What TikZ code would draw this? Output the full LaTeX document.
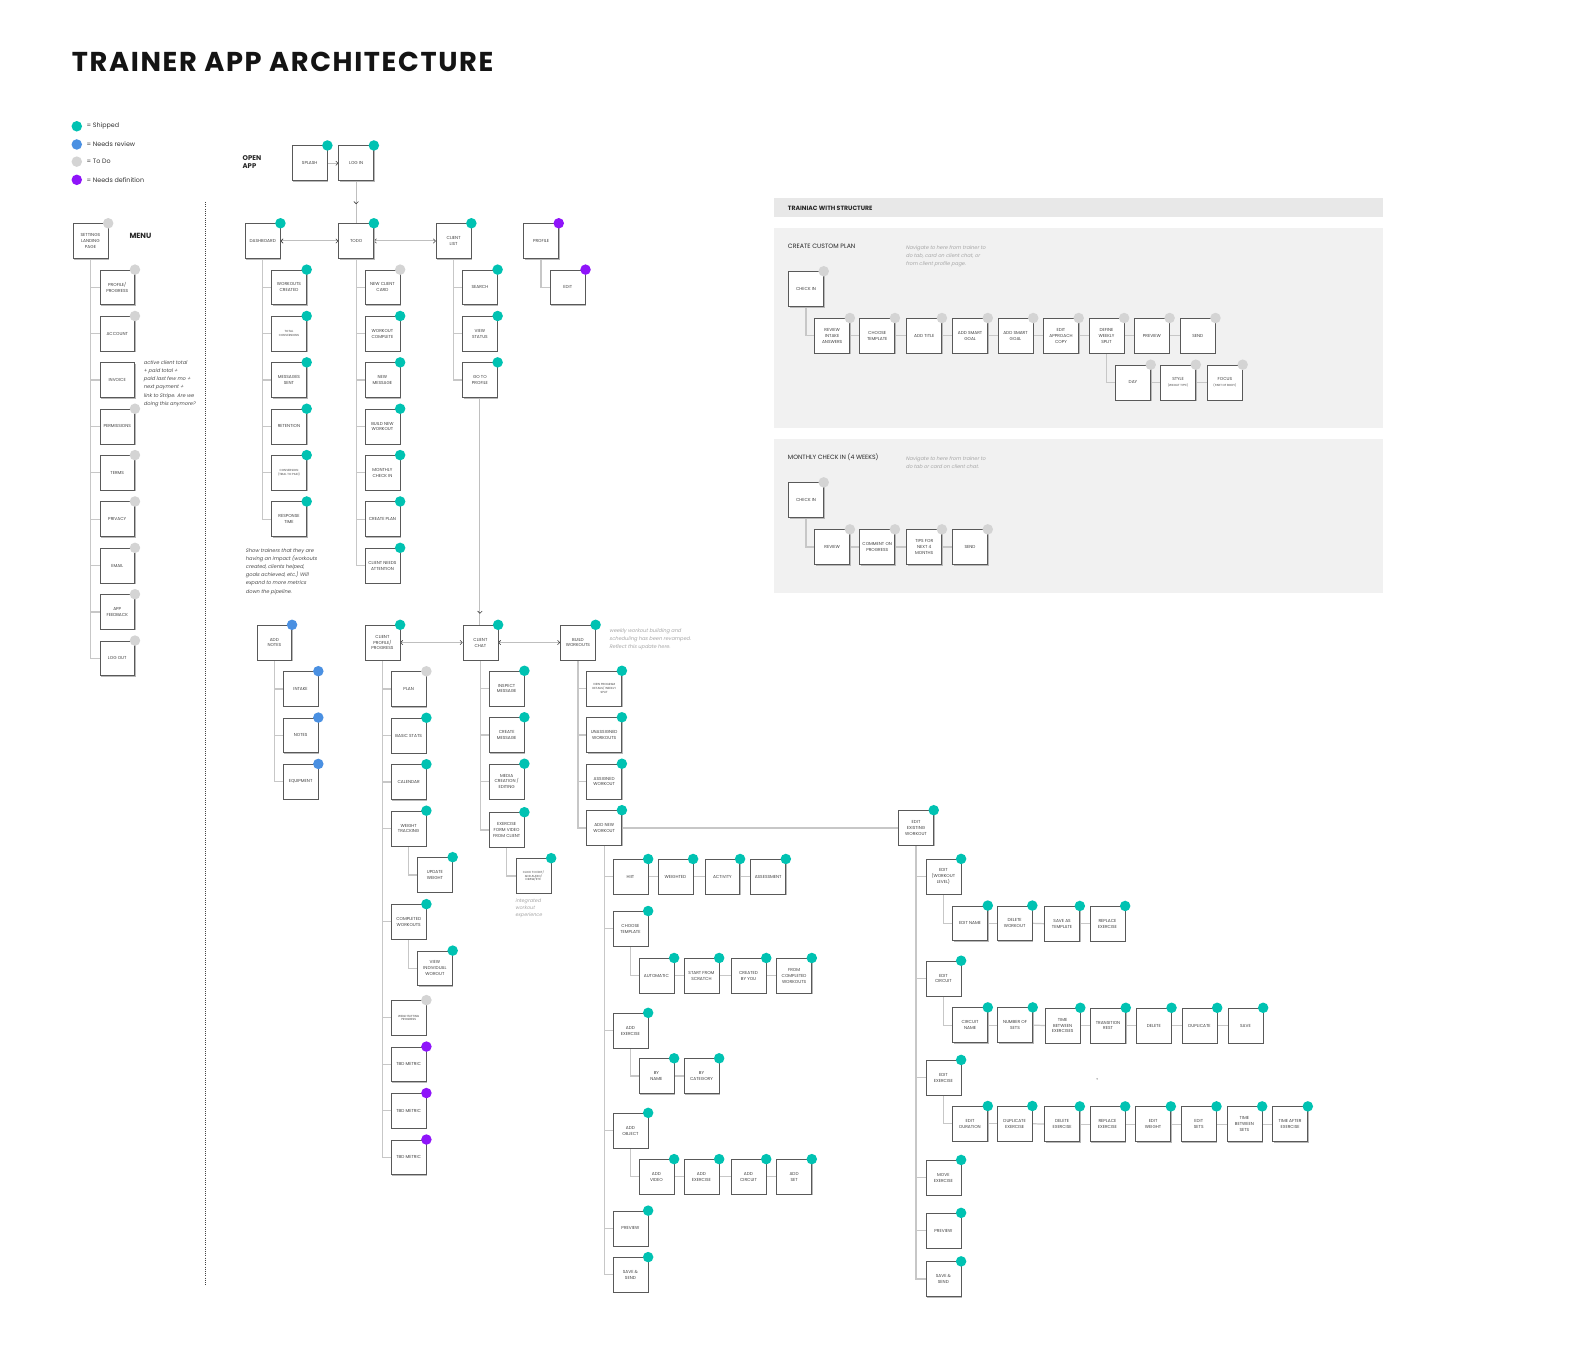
\documentclass[tikz,border=0pt]{standalone}
\usepackage{fontspec}
\setmainfont{Poppins}
\newfontfamily\notefont{Poppins}[FakeSlant=0.2]
\newfontfamily\titlefont{Poppins}[LetterSpace=6]
\usetikzlibrary{arrows.meta,shadows,decorations.markings}
\definecolor{cship}{HTML}{00C2B2}
\definecolor{creview}{HTML}{4A90E2}
\definecolor{ctodo}{HTML}{D4D4D4}
\definecolor{cdef}{HTML}{8F14FA}
\definecolor{cpanel}{HTML}{F1F1F1}
\definecolor{chead}{HTML}{E8E8E8}
\pgfdeclarelayer{bg}\pgfdeclarelayer{conn}\pgfsetlayers{bg,conn,main}
\newcommand\lblfont{\fontsize{4.3}{5.8}\selectfont}
\newcommand\smlfont{\fontsize{2.9}{3.6}\selectfont}
\newcommand\mkbox[6][]{\node[box,#1] (#2) at (#3,#4) {#6};\fill[#5] (#2.north east) circle[radius=5.2];}
\newcommand\mkbr[2]{\draw[conn] (#1.south) |- (#2.west);}
\newcommand\mkch[2]{\draw[conn] (#1.east) -- (#2.west);}
\tikzset{
  box/.style={draw=black!65, line width=0.6pt, fill=white, minimum width=34.5pt, minimum height=34.5pt,
    inner sep=0pt, align=center, anchor=north west, font=\lblfont, text=black!75,
    drop shadow={shadow xshift=1.1pt, shadow yshift=-1.1pt, opacity=1, fill=black!28}},
  sbox/.style={font=\smlfont},
  conn/.style={draw=black!22, line width=1.2pt},
  arr/.style={draw=black!25, line width=1pt},
  barb/.tip={Straight Barb[length=2.2pt,width=4.4pt,line width=0.6pt,color=black!75]},
  note/.style={anchor=north west, align=left, inner sep=0pt, text=black!70, font=\notefont\fontsize{5}{8}\selectfont},
  lnote/.style={note, text=black!35},
  legtxt/.style={anchor=west, inner sep=0pt, text=black!80, font=\fontsize{6.3}{7}\selectfont},
  legdot/.style={circle, inner sep=0pt, minimum size=10.4pt},
  hdr/.style={anchor=west, inner sep=0pt, text=black!85},
}
\begin{document}
\begin{tikzpicture}[x=1pt,y=-1pt]
\begin{pgfonlayer}{bg}
\fill[white] (0,0) rectangle (1568,1350);
\fill[chead] (766,196) rectangle (1369,215);
\fill[cpanel] (766,225.5) rectangle (1369,424);
\fill[cpanel] (766,434.5) rectangle (1369,587);
\end{pgfonlayer}
\useasboundingbox (0,0) rectangle (1568,1350);

% title and legend
\node[hdr, font=\titlefont\fontsize{27}{30}\selectfont\bfseries, text=black!92] (title) at (71,61) {TRAINER APP ARCHITECTURE};
\node[legdot, fill=cship] (lg1) at (76,125) {};
\node[legdot, fill=creview] (lg2) at (76,143) {};
\node[legdot, fill=ctodo] (lg3) at (76,160) {};
\node[legdot, fill=cdef] (lg4) at (76,178) {};
\node[legtxt] (lt1) at (85.5,125) {= Shipped};
\node[legtxt] (lt2) at (85.5,143) {= Needs review};
\node[legtxt] (lt3) at (85.5,160) {= To Do};
\node[legtxt] (lt4) at (85.5,178) {= Needs definition};

\node[hdr, align=left, font=\fontsize{6.8}{7.8}\selectfont\bfseries] (openapp) at (240,160) {OPEN\\APP};
\node[hdr, font=\fontsize{7.4}{8}\selectfont\bfseries] (menu) at (128,234) {MENU};
\draw[black!75, line width=0.8pt, dash pattern=on 0.9pt off 1.3pt] (203,200) -- (203,1272);

% menu
\mkbox{set}{72}{221}{ctodo}{SETTINGS\\LANDING\\PAGE}
\mkbox{mprof}{98.5}{266.9}{ctodo}{PROFILE/\\PROGRESS}
\mkbox{macc}{98.5}{312.8}{ctodo}{ACCOUNT}
\node[box] (minv) at (98.5,358.7) {INVOICE};
\mkbox{mperm}{98.5}{404.6}{ctodo}{PERMISSIONS}
\mkbox{mterms}{98.5}{450.5}{ctodo}{TERMS}
\mkbox{mpriv}{98.5}{496.4}{ctodo}{PRIVACY}
\mkbox{memail}{98.5}{542.3}{ctodo}{EMAIL}
\mkbox{mfeed}{98.5}{588.2}{ctodo}{APP\\FEEDBACK}
\mkbox{mlog}{98.5}{634.1}{ctodo}{LOG OUT}
\node[note] (invnote) at (142,357) {active client total\\+ paid total +\\paid last few mo +\\next payment +\\link to Stripe. Are we\\doing this anymore?};

% top
\mkbox{splash}{289}{144}{cship}{SPLASH}
\mkbox{login}{335}{144}{cship}{LOG IN}
\mkbox{dash}{242.5}{221}{cship}{DASHBOARD}
\mkbox{todo}{335}{221}{cship}{TODO}
\mkbox{clist}{431.5}{221}{cship}{CLIENT\\LIST}
\mkbox{prof}{518}{221}{cdef}{PROFILE}

\mkbox{wc}{268.5}{266.9}{cship}{WORKOUTS\\CREATED}
\mkbox[sbox]{tc}{268.5}{312.8}{cship}{TOTAL\\CONVERSIONS}
\mkbox{ms}{268.5}{358.7}{cship}{MESSAGES\\SENT}
\mkbox{ret}{268.5}{404.6}{cship}{RETENTION}
\mkbox[sbox]{conv}{268.5}{450.5}{cship}{CONVERSION\\(TRIAL TO PAID)}
\mkbox{rt}{268.5}{496.4}{cship}{RESPONSE\\TIME}
\node[note] (dashnote) at (243,543) {Show trainers that they are\\having an impact (workouts\\created, clients helped,\\goals achieved, etc.) Will\\expand to more metrics\\down the pipeline.};

\mkbox{ncc}{361}{266.9}{ctodo}{NEW CLIENT\\CARD}
\mkbox{wcomp}{361}{312.8}{cship}{WORKOUT\\COMPLETE}
\mkbox{nm}{361}{358.7}{cship}{NEW\\MESSAGE}
\mkbox{bnw}{361}{404.6}{cship}{BUILD NEW\\WORKOUT}
\mkbox{mci}{361}{450.5}{cship}{MONTHLY\\CHECK IN}
\mkbox{cplan}{361}{496.4}{cship}{CREATE PLAN}
\mkbox{cna}{361}{542.3}{cship}{CLIENT NEEDS\\ATTENTION}

\mkbox{search}{457.5}{266.9}{cship}{SEARCH}
\mkbox{vs}{457.5}{312.8}{cship}{VIEW\\STATUS}
\mkbox{gtp}{457.5}{358.7}{cship}{GO TO\\PROFILE}
\mkbox{pedit}{544.5}{266.9}{cdef}{EDIT}

% lower left
\mkbox{an}{254}{618.5}{creview}{ADD\\NOTES}
\mkbox{intake}{280}{664.4}{creview}{INTAKE}
\mkbox{notes}{280}{710.3}{creview}{NOTES}
\mkbox{equip}{280}{756.2}{creview}{EQUIPMENT}

\mkbox{cprof}{361}{618.5}{cship}{CLIENT\\PROFILE/\\PROGRESS}
\mkbox{plan}{387}{664.5}{ctodo}{PLAN}
\mkbox{bstats}{387}{710.5}{cship}{BASIC STATS}
\mkbox{cal}{387}{756.5}{cship}{CALENDAR}
\mkbox{wt}{387}{802.5}{cship}{WEIGHT\\TRACKING}
\mkbox{uw}{413}{848.5}{cship}{UPDATE\\WEIGHT}
\mkbox{cw}{387}{895}{cship}{COMPLETED\\WORKOUTS}
\mkbox{viw}{413}{941}{cship}{VIEW\\INDIVIDUAL\\WOROUT}
\mkbox[sbox]{wlp}{387}{990}{ctodo}{WEIGHTLIFTING\\PROGRESS}
\mkbox{tbda}{387}{1036}{cdef}{TBD METRIC}
\mkbox{tbdb}{387}{1082}{cdef}{TBD METRIC}
\mkbox{tbdc}{387}{1128}{cdef}{TBD METRIC}

\mkbox{cchat}{458}{618.5}{cship}{CLIENT\\CHAT}
\mkbox{insp}{484}{664}{cship}{INSPECT\\MESSAGE}
\mkbox{cmsg}{484}{710}{cship}{CREATE\\MESSAGE}
\mkbox{media}{484}{756}{cship}{MEDIA\\CREATION /\\EDITING}
\mkbox{efv}{484}{804}{cship}{EXERCISE\\FORM VIDEO\\FROM CLIENT}
\mkbox[sbox]{click}{510.5}{849.5}{cship}{CLICK TO EDIT/\\ADD AUDIO/\\DRAW/ETC}
\node[lnote, font=\notefont\fontsize{4.8}{6.7}\selectfont] (intnote) at (510,889.5) {integrated\\workout\\experience};

\mkbox{bw}{554.5}{618.5}{cship}{BUILD\\WORKOUTS}
\node[lnote] (bwnote) at (603,622) {weekly workout building and\\scheduling has been revamped.\\Reflect this update here.};
\mkbox[sbox]{vpd}{580.5}{664}{cship}{VIEW PROGRAM\\DETAILS/ WEEKLY\\SPLIT}
\mkbox{unas}{580.5}{710}{cship}{UNASSIGNED\\WORKOUTS}
\mkbox{asw}{580.5}{756}{cship}{ASSIGNED\\WORKOUT}
\mkbox{anw}{580.5}{802}{cship}{ADD NEW\\WORKOUT}

% add new workout
\mkbox{hiit}{606.5}{850.3}{cship}{HIIT}
\mkbox{weighted}{651}{850.3}{cship}{WEIGHTED}
\mkbox{activity}{697.5}{850.3}{cship}{ACTIVITY}
\mkbox{assess}{742.8}{850.3}{cship}{ASSESSMENT}
\mkbox{ctpl}{606.5}{901.8}{cship}{CHOOSE\\TEMPLATE}
\mkbox{auto}{632.2}{948.3}{cship}{AUTOMATIC}
\mkbox{sfs}{676.8}{948.3}{cship}{START FROM\\SCRATCH}
\mkbox{cby}{723.4}{948.3}{cship}{CREATED\\BY YOU}
\mkbox{fcw}{768.5}{948.3}{cship}{FROM\\COMPLETED\\WORKOUTS}
\mkbox{aex}{606.5}{1002.6}{cship}{ADD\\EXERCISE}
\mkbox{byname}{632.2}{1047.6}{cship}{BY\\NAME}
\mkbox{bycat}{676.8}{1047.6}{cship}{BY\\CATEGORY}
\mkbox{aobj}{606.5}{1101.6}{cship}{ADD\\OBJECT}
\mkbox{avid}{632.2}{1147.4}{cship}{ADD\\VIDEO}
\mkbox{aexo}{676.8}{1147.4}{cship}{ADD\\EXERCISE}
\mkbox{acirc}{723.4}{1147.4}{cship}{ADD\\CIRCUIT}
\mkbox{aset}{768.5}{1147.4}{cship}{ADD\\SET}
\mkbox{aprev}{606.5}{1198.4}{cship}{PREVIEW}
\mkbox{asave}{606.5}{1244.4}{cship}{SAVE \&\\SEND}

% edit existing workout
\mkbox{eew}{889.2}{802}{cship}{EDIT\\EXISTING\\WORKOUT}
\mkbox{ewl}{916.3}{850.2}{cship}{EDIT\\(WORKOUT\\LEVEL)}
\mkbox{ename}{942.7}{896.4}{cship}{EDIT NAME}
\mkbox{delw}{986.8}{896.4}{cship}{DELETE\\WORKOUT}
\mkbox{savt}{1033.8}{896.8}{cship}{SAVE AS\\TEMPLATE}
\mkbox{repl}{1078.7}{896.8}{cship}{REPLACE\\EXERCISE}
\mkbox{ecirc}{916.3}{951}{cship}{EDIT\\CIRCUIT}
\mkbox{cname}{942.7}{997.2}{cship}{CIRCUIT\\NAME}
\mkbox{nsets}{987.2}{997.2}{cship}{NUMBER OF\\SETS}
\mkbox{tbe}{1034.3}{997.6}{cship}{TIME\\BETWEEN\\EXERCISES}
\mkbox{trest}{1079.3}{997.6}{cship}{TRANSITION\\REST}
\mkbox{cdel}{1124.6}{997.6}{cship}{DELETE}
\mkbox{cdup}{1169.8}{997.6}{cship}{DUPLICATE}
\mkbox{csave}{1215.3}{997.6}{cship}{SAVE}
\mkbox{eex}{916.3}{1049.2}{cship}{EDIT\\EXERCISE}
\mkbox{edur}{942.7}{1094.8}{cship}{EDIT\\DURATION}
\mkbox{dupe}{986.8}{1094.8}{cship}{DUPLICATE\\EXERCISE}
\mkbox{dele}{1033.8}{1095.2}{cship}{DELETE\\EXERCISE}
\mkbox{repe}{1078.7}{1095.2}{cship}{REPLACE\\EXERCISE}
\mkbox{ewt}{1123.9}{1095.2}{cship}{EDIT\\WEIGHT}
\mkbox{esets}{1169.1}{1095.2}{cship}{EDIT\\SETS}
\mkbox{tbs}{1214.3}{1095.2}{cship}{TIME\\BETWEEN\\SETS}
\mkbox{tae}{1259.5}{1095.2}{cship}{TIME AFTER\\EXERCISE}
\mkbox{mvex}{916.3}{1148.2}{cship}{MOVE\\EXERCISE}
\mkbox{eprev}{916.3}{1200.6}{cship}{PREVIEW}
\mkbox{esave}{916.3}{1248.6}{cship}{SAVE \&\\SEND}
\fill[black!70] (1086,1068) circle[radius=0.6];

% trainiac
\node[hdr, font=\fontsize{6.1}{6.5}\selectfont\bfseries] (trhead) at (779.8,206) {TRAINIAC WITH STRUCTURE};
\node[hdr, font=\fontsize{6.2}{6.5}\selectfont] (ccplan) at (779.8,244) {CREATE CUSTOM PLAN};
\node[lnote, font=\notefont\fontsize{5}{8.1}\selectfont] (ccnote) at (896.5,242.5) {Navigate to here from trainer to\\do tab, card on client chat, or\\from client profile page.};
\mkbox{tci}{780.3}{268.5}{ctodo}{CHECK IN}
\mkbox{tria}{806.2}{314.8}{ctodo}{REVIEW\\INTAKE\\ANSWERS}
\mkbox{tct}{850.8}{314.8}{ctodo}{CHOOSE\\TEMPLATE}
\mkbox{tat}{897.3}{314.8}{ctodo}{ADD TITLE}
\mkbox{tsg}{942.7}{314.8}{ctodo}{ADD SMART\\GOAL}
\mkbox{tsg2}{987.7}{314.8}{ctodo}{ADD SMART\\GOAL}
\mkbox{teac}{1032.7}{314.8}{ctodo}{EDIT\\APPROACH\\COPY}
\mkbox{tdws}{1077.7}{314.8}{ctodo}{DEFINE\\WEEKLY\\SPLIT}
\mkbox{tprev}{1122.7}{314.8}{ctodo}{PREVIEW}
\mkbox{tsend}{1168.1}{314.8}{ctodo}{SEND}
\mkbox{tday}{1104}{361}{ctodo}{DAY}
\mkbox{tstyle}{1148.6}{361}{ctodo}{STYLE\\{\smlfont(WKOUT TYPE)}}
\mkbox{tfocus}{1195}{361}{ctodo}{FOCUS\\{\smlfont(PART OF BODY)}}

\node[hdr, font=\fontsize{6.1}{6.5}\selectfont] (mchead) at (779.8,453) {MONTHLY CHECK IN (4 WEEKS)};
\node[lnote, font=\notefont\fontsize{5}{8.1}\selectfont] (mcnote) at (896.5,452) {Navigate to here from trainer to\\do tab or card on client chat.};
\mkbox{mci2}{780.3}{477.5}{ctodo}{CHECK IN}
\mkbox{mrev}{806.2}{524}{ctodo}{REVIEW}
\mkbox{mcom}{850.8}{524}{ctodo}{COMMENT ON\\PROGRESS}
\mkbox{mtips}{897.3}{524}{ctodo}{TIPS FOR\\NEXT 4\\MONTHS}
\mkbox{msend}{942.7}{524}{ctodo}{SEND}

% connectors
\begin{pgfonlayer}{conn}
\foreach \c in {mprof,macc,minv,mperm,mterms,mpriv,memail,mfeed,mlog} {\mkbr{set}{\c}}
\foreach \c in {wc,tc,ms,ret,conv,rt} {\mkbr{dash}{\c}}
\foreach \c in {ncc,wcomp,nm,bnw,mci,cplan,cna} {\mkbr{todo}{\c}}
\foreach \c in {search,vs,gtp} {\mkbr{clist}{\c}}
\mkbr{prof}{pedit}
\foreach \c in {intake,notes,equip} {\mkbr{an}{\c}}
\foreach \c in {plan,bstats,cal,wt,cw,wlp,tbda,tbdb,tbdc} {\mkbr{cprof}{\c}}
\mkbr{wt}{uw}
\mkbr{cw}{viw}
\foreach \c in {insp,cmsg,media,efv} {\mkbr{cchat}{\c}}
\mkbr{efv}{click}
\foreach \c in {vpd,unas,asw,anw} {\mkbr{bw}{\c}}
\foreach \c in {hiit,ctpl,aex,aobj,aprev,asave} {\mkbr{anw}{\c}}
\mkch{hiit}{weighted}\mkch{weighted}{activity}\mkch{activity}{assess}
\mkbr{ctpl}{auto}\mkch{auto}{sfs}\mkch{sfs}{cby}\mkch{cby}{fcw}
\mkbr{aex}{byname}\mkch{byname}{bycat}
\mkbr{aobj}{avid}\mkch{avid}{aexo}\mkch{aexo}{acirc}\mkch{acirc}{aset}
\mkch{anw}{eew}
\foreach \c in {ewl,ecirc,eex,mvex,eprev,esave} {\mkbr{eew}{\c}}
\mkbr{ewl}{ename}\mkch{ename}{delw}\mkch{delw}{savt}\mkch{savt}{repl}
\mkbr{ecirc}{cname}\mkch{cname}{nsets}\mkch{nsets}{tbe}\mkch{tbe}{trest}\mkch{trest}{cdel}\mkch{cdel}{cdup}\mkch{cdup}{csave}
\mkbr{eex}{edur}\mkch{edur}{dupe}\mkch{dupe}{dele}\mkch{dele}{repe}\mkch{repe}{ewt}\mkch{ewt}{esets}\mkch{esets}{tbs}\mkch{tbs}{tae}
\mkbr{tci}{tria}\mkch{tria}{tct}\mkch{tct}{tat}\mkch{tat}{tsg}\mkch{tsg}{tsg2}\mkch{tsg2}{teac}\mkch{teac}{tdws}\mkch{tdws}{tprev}\mkch{tprev}{tsend}
\mkbr{tdws}{tday}\mkch{tday}{tstyle}\mkch{tstyle}{tfocus}
\mkbr{mci2}{mrev}\mkch{mrev}{mcom}\mkch{mcom}{mtips}\mkch{mtips}{msend}
% arrows
\draw[arr, -barb] (splash.east) -- (login.west);
\draw[arr, postaction={decorate}, decoration={markings, mark=at position 0.55 with {\arrow{barb}}}] (login.south) -- (todo.north);
\draw[arr, barb-barb] (dash.east) -- (todo.west);
\draw[arr, barb-barb] (todo.east) -- (clist.west);
\draw[arr, postaction={decorate}, decoration={markings, mark=at position -11pt with {\arrow{barb}}}] (gtp.south) -- (gtp.south |- cchat.north);
\draw[arr, barb-barb] (cprof.east) -- (cchat.west);
\draw[arr, barb-barb] (cchat.east) -- (bw.west);
\end{pgfonlayer}
\end{tikzpicture}
\end{document}
